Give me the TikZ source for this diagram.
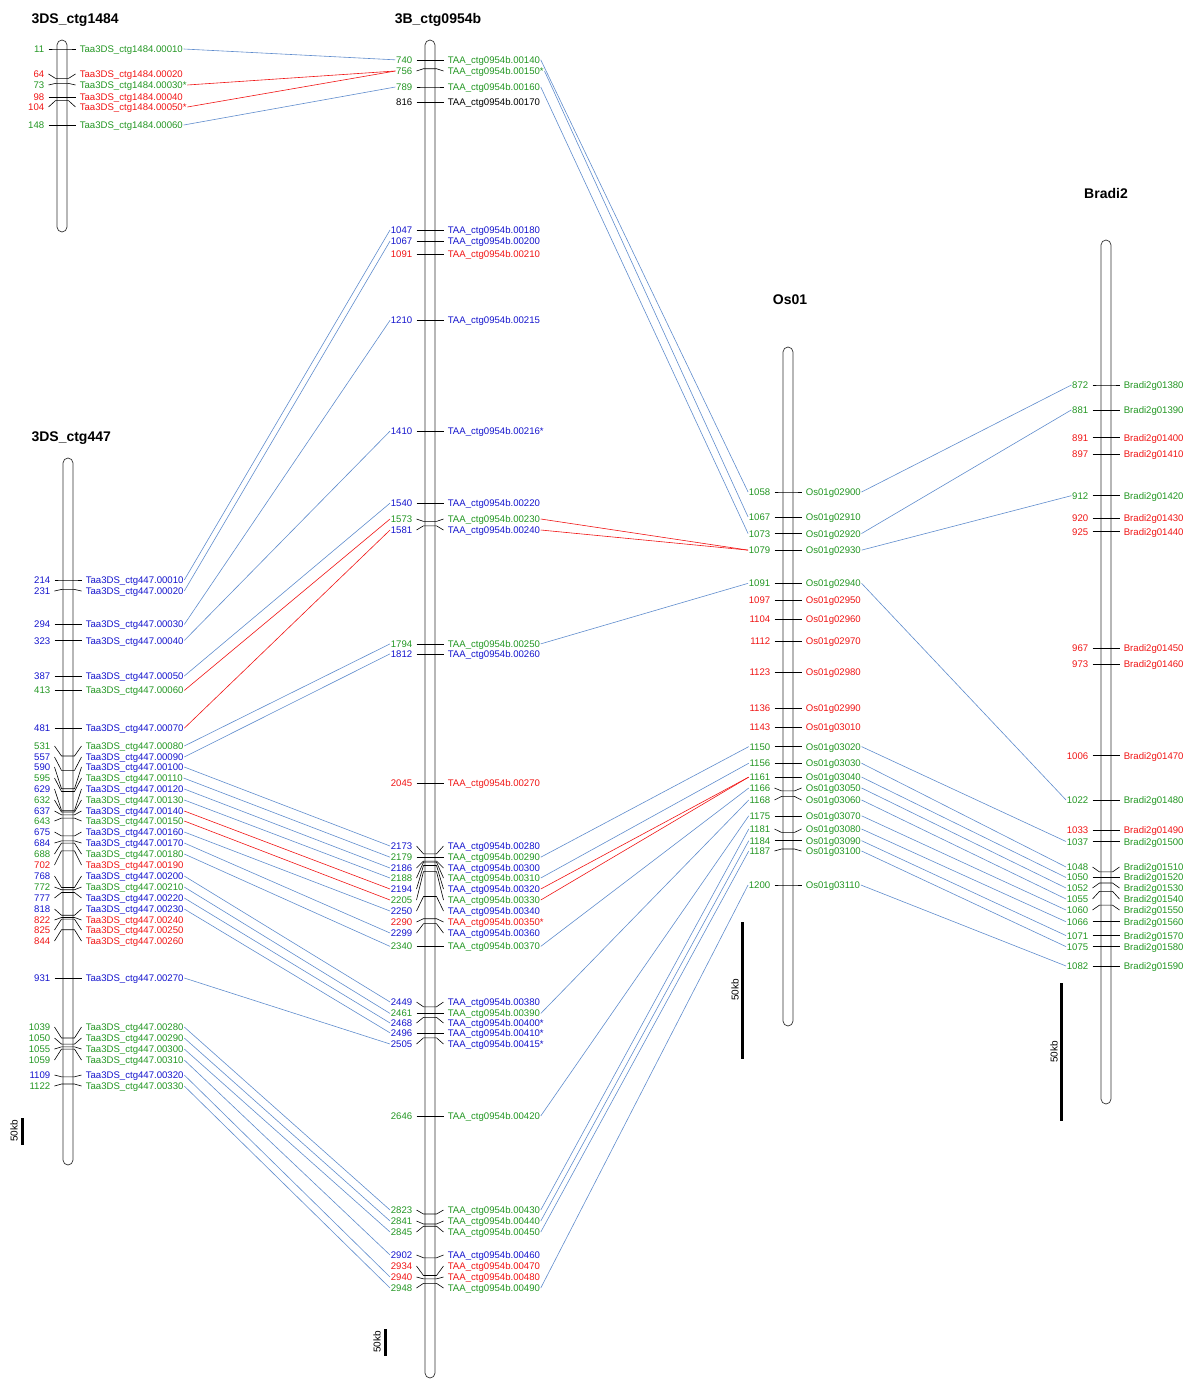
\documentclass[tikz,border=0pt]{standalone}
\usepackage{fontspec}
\setmainfont{Liberation Sans}
\usetikzlibrary{positioning}
\definecolor{gG}{RGB}{34,150,34}
\definecolor{gR}{RGB}{240,20,20}
\definecolor{gB}{RGB}{20,20,205}
\definecolor{lnB}{RGB}{95,140,205}

\begin{document}
\begin{tikzpicture}[
    x=1pt, y=-1pt,
    chrom/.style={draw=black!80, line width=0.7pt, fill=white, rounded corners=5pt},
    tick/.style={black, line width=0.6pt},
    num/.style={anchor=east, inner sep=0.6pt, text height=7pt, text depth=0pt, font=\fontsize{9.6}{11}\selectfont},
    gname/.style={num, anchor=west},
    ttl/.style={font=\fontsize{14}{16}\selectfont\bfseries},
    link/.style={lnB, line width=0.6pt},
    linkR/.style={gR, line width=0.6pt},
    scalebar/.style={line width=3pt},
    kb/.style={rotate=90, font=\fontsize{10}{11}\selectfont}
]
\useasboundingbox (0,0) rectangle (1200,1391);

% 3DS_ctg1484
\draw[chrom] (57,40) rectangle (67,232);
\node[ttl, anchor=west] (da) at (28,20) {3DS\_ctg1484};
\foreach \p/\ly/\c/\g in {11/49/gG/00010, 64/74/gR/00020, 73/85/gG/00030*, 98/96/gR/00040, 104/107/gR/00050*, 148/125/gG/00060}{
  \pgfmathsetmacro\by{49+(\p-11)*0.555}
  \pgfmathsetmacro\lyy{abs(\ly-\by)<1.3 ? \by : \ly}
  \draw[tick] (48.5,\lyy) -- (55.5,\by) -- (68.5,\by) -- (75.5,\lyy);
  \node[num, text=\c] (da-\p-n) at (45,\lyy) {\p};
  \node[gname, text=\c] (da-\p-g) at (79,\lyy) {Taa3DS\_ctg1484.\g};
}

% 3B_ctg0954b
\draw[chrom] (425,40) rectangle (435,1378);
\node[ttl] (tb) at (438,20) {3B\_ctg0954b};
\foreach \p/\ly/\c/\g in {740/60/gG/00140, 756/71/gG/00150*, 789/87/gG/00160, 816/102/black/00170,
    1047/231/gB/00180, 1067/242/gB/00200, 1091/254/gR/00210, 1210/321/gB/00215, 1410/431/gB/00216*,
    1540/504/gB/00220, 1573/519/gG/00230, 1581/530/gB/00240, 1794/644/gG/00250, 1812/655/gB/00260,
    2045/784/gR/00270, 2173/846/gB/00280, 2179/857/gG/00290, 2186/868/gB/00300, 2188/878/gG/00310,
    2194/889/gB/00320, 2205/900/gG/00330, 2250/911/gB/00340, 2290/922/gR/00350*, 2299/933/gB/00360,
    2340/947/gG/00370, 2449/1002/gB/00380, 2461/1013/gG/00390, 2468/1023/gB/00400*, 2496/1034/gB/00410*,
    2505/1044/gB/00415*, 2646/1116/gG/00420, 2823/1210/gG/00430, 2841/1221/gG/00440, 2845/1232/gG/00450,
    2902/1255/gB/00460, 2934/1266/gR/00470, 2940/1277/gR/00480, 2948/1288/gG/00490}{
  \pgfmathsetmacro\by{87+(\p-789)*0.5541}
  \pgfmathsetmacro\lyy{abs(\ly-\by)<1.3 ? \by : \ly}
  \draw[tick] (416.5,\lyy) -- (423.5,\by) -- (436.5,\by) -- (443.5,\lyy);
  \node[num, text=\c] (tb-\p-n) at (413,\lyy) {\p};
  \node[gname, text=\c] (tb-\p-g) at (447,\lyy) {TAA\_ctg0954b.\g};
}

% 3DS_ctg447
\draw[chrom] (63,458) rectangle (73,1165);
\node[ttl, anchor=west] (db) at (28,438) {3DS\_ctg447};
\foreach \p/\ly/\c/\g in {214/580/gB/00010, 231/591/gB/00020, 294/625/gB/00030, 323/641/gB/00040,
    387/677/gB/00050, 413/691/gG/00060, 481/729/gB/00070, 531/746/gG/00080, 557/757/gB/00090,
    590/767/gB/00100, 595/778/gG/00110, 629/789/gB/00120, 632/800/gG/00130, 637/811/gB/00140,
    643/821/gG/00150, 675/832/gB/00160, 684/843/gB/00170, 688/854/gG/00180, 702/865/gR/00190,
    768/876/gB/00200, 772/887/gG/00210, 777/898/gB/00220, 818/909/gB/00230, 822/920/gR/00240,
    825/930/gR/00250, 844/941/gR/00260, 931/978/gB/00270, 1039/1027/gG/00280, 1050/1038/gG/00290,
    1055/1049/gG/00300, 1059/1060/gG/00310, 1109/1075/gB/00320, 1122/1086/gG/00330}{
  \pgfmathsetmacro\by{580+(\p-214)*0.5551}
  \pgfmathsetmacro\lyy{abs(\ly-\by)<1.3 ? \by : \ly}
  \draw[tick] (54.5,\lyy) -- (61.5,\by) -- (74.5,\by) -- (81.5,\lyy);
  \node[num, text=\c] (db-\p-n) at (51,\lyy) {\p};
  \node[gname, text=\c] (db-\p-g) at (85,\lyy) {Taa3DS\_ctg447.\g};
}

% Os01
\draw[chrom] (783,347) rectangle (793,1026);
\node[ttl] (os) at (790,300) {Os01};
\foreach \p/\ly/\c/\g in {1058/492/gG/02900, 1067/518/gG/02910, 1073/534/gG/02920, 1079/550/gG/02930,
    1091/583/gG/02940, 1097/600/gR/02950, 1104/619/gR/02960, 1112/642/gR/02970, 1123/672/gR/02980,
    1136/708/gR/02990, 1143/728/gR/03010, 1150/747/gG/03020, 1156/763/gG/03030, 1161/777/gG/03040,
    1166/788/gG/03050, 1168/800/gG/03060, 1175/816/gG/03070, 1181/829/gG/03080, 1184/840/gG/03090,
    1187/851/gG/03100, 1200/885/gG/03110}{
  \pgfmathsetmacro\by{492+(\p-1058)*2.7676}
  \pgfmathsetmacro\lyy{abs(\ly-\by)<1.3 ? \by : \ly}
  \draw[tick] (774.5,\lyy) -- (781.5,\by) -- (794.5,\by) -- (801.5,\lyy);
  \node[num, text=\c] (os-\p-n) at (771,\lyy) {\p};
  \node[gname, text=\c] (os-\p-g) at (805,\lyy) {Os01g\g};
}

% Bradi2
\draw[chrom] (1101,240) rectangle (1111,1104);
\node[ttl] (bd) at (1106,193) {Bradi2};
\foreach \p/\ly/\c/\g in {872/385/gG/01380, 881/410/gG/01390, 891/438/gR/01400, 897/454/gR/01410,
    912/496/gG/01420, 920/518/gR/01430, 925/532/gR/01440, 967/648/gR/01450, 973/664/gR/01460,
    1006/756/gR/01470, 1022/800/gG/01480, 1033/830/gR/01490, 1037/841/gG/01500, 1048/867/gG/01510,
    1050/877/gG/01520, 1052/888/gG/01530, 1055/899/gG/01540, 1060/910/gG/01550, 1066/921/gG/01560,
    1071/935/gG/01570, 1075/946/gG/01580, 1082/966/gG/01590}{
  \pgfmathsetmacro\by{385+(\p-872)*2.7667}
  \pgfmathsetmacro\lyy{abs(\ly-\by)<1.3 ? \by : \ly}
  \draw[tick] (1092.5,\lyy) -- (1099.5,\by) -- (1112.5,\by) -- (1119.5,\lyy);
  \node[num, text=\c] (bd-\p-n) at (1089,\lyy) {\p};
  \node[gname, text=\c] (bd-\p-g) at (1123,\lyy) {Bradi2g\g};
}

% Scale bars
\draw[scalebar] (22,1118) -- (22,1145);
\node[kb] (kb-db) at (14,1131) {50kb};
\draw[scalebar] (385,1329) -- (385,1356);
\node[kb] (kb-tb) at (377,1342) {50kb};
\draw[scalebar] (742,922) -- (742,1059);
\node[kb] (kb-os) at (735,990) {50kb};
\draw[scalebar] (1061,983) -- (1061,1121);
\node[kb] (kb-bd) at (1054,1052) {50kb};

% Links: 3DS_ctg1484 - 3B
\foreach \a/\b in {11/740, 148/789}
  \draw[link] (da-\a-g.east) -- (tb-\b-n.west);
\foreach \a/\b in {73/756, 104/756}
  \draw[linkR] (da-\a-g.east) -- (tb-\b-n.west);

% Links: 3DS_ctg447 - 3B
\foreach \a/\b in {214/1047, 231/1067, 294/1210, 323/1410, 387/1540, 531/1794, 557/1812,
    590/2173, 595/2179, 629/2186, 632/2188, 675/2250, 684/2299, 688/2340, 768/2449, 772/2461,
    777/2468, 818/2496, 931/2505, 1039/2823, 1050/2841, 1055/2845, 1059/2902, 1109/2940, 1122/2948}
  \draw[link] (db-\a-g.east) -- (tb-\b-n.west);
\foreach \a/\b in {413/1573, 481/1581, 637/2194, 643/2205}
  \draw[linkR] (db-\a-g.east) -- (tb-\b-n.west);

% Links: 3B - Os01
\foreach \a/\b in {740/1058, 756/1067, 789/1073, 1794/1091, 2179/1150, 2188/1156, 2340/1166,
    2461/1168, 2646/1175, 2823/1181, 2841/1184, 2845/1187, 2948/1200}
  \draw[link] (tb-\a-g.east) -- (os-\b-n.west);
\foreach \a/\b in {1573/1079, 1581/1079, 2194/1161, 2205/1161}
  \draw[linkR] (tb-\a-g.east) -- (os-\b-n.west);

% Links: Os01 - Bradi2
\foreach \a/\b in {1058/872, 1073/881, 1079/912, 1091/1022, 1150/1037, 1156/1048, 1161/1050,
    1166/1052, 1168/1055, 1175/1060, 1181/1066, 1184/1071, 1187/1075, 1200/1082}
  \draw[link] (os-\a-g.east) -- (bd-\b-n.west);

\end{tikzpicture}
\end{document}
